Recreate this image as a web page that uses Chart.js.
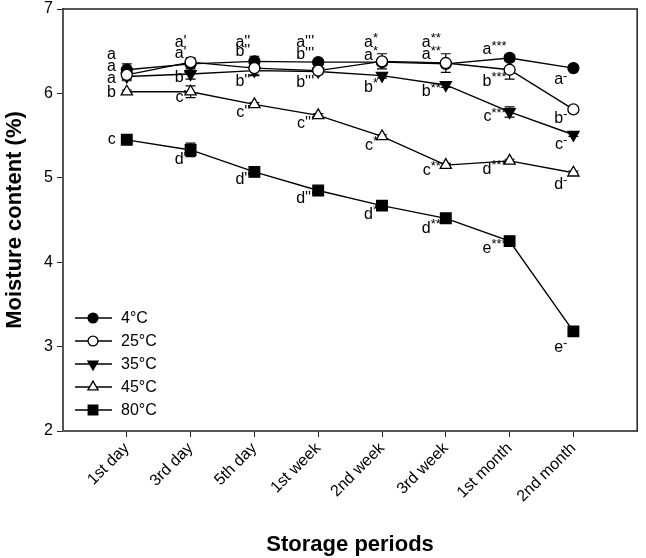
<!DOCTYPE html>
<html><head><meta charset="utf-8">
<script src="https://cdn.jsdelivr.net/npm/chart.js@4.4.1/dist/chart.umd.min.js"></script>
<style>html,body{margin:0;padding:0;background:#fff}#wrap{width:646px;height:558px}</style>
</head><body><div id="wrap"><canvas id="c" width="646" height="558"></canvas></div>
<script>
// ---- data ----
const categories = ['1st day','3rd day','5th day','1st week','2nd week','3rd week','1st month','2nd month'];
const seriesNames = ['4°C','25°C','35°C','45°C','80°C'];
const yTicks = [2,3,4,5,6,7];

const moisture4  = [6.28, 6.35, 6.38, 6.37, 6.37, 6.35, 6.42, 6.30];
const moisture25 = [6.22, 6.37, 6.30, 6.27, 6.38, 6.36, 6.28, 5.81];
const moisture35 = [6.20, 6.23, 6.27, 6.26, 6.21, 6.10, 5.78, 5.51];
const moisture45 = [6.02, 6.02, 5.87, 5.74, 5.49, 5.15, 5.20, 5.06];
const moisture80 = [5.45, 5.33, 5.07, 4.85, 4.67, 4.52, 4.25, 3.18];

const err4  = [0.07, 0.03, 0.06, 0.03, 0.02, 0.03, 0.04, 0.03];
const err25 = [0.07, 0.05, 0.08, 0.03, 0.09, 0.11, 0.11, 0.02];
const err35 = [0.03, 0.06, 0.06, 0.03, 0.03, 0.03, 0.06, 0.02];
const err45 = [0.02, 0.07, 0.02, 0.02, 0.02, 0.02, 0.02, 0.02];
const err80 = [0.04, 0.08, 0.03, 0.04, 0.02, 0.03, 0.03, 0.03];

const letters4  = ['a', "a'", "a''", "a'''", 'a*', 'a**', 'a***', 'a-'];
const letters25 = ['a', "a'", "b''", "b'''", 'a*', 'a**', 'b***', 'b-'];
const letters35 = ['a', "b'", "b''", "b'''", 'b*', 'b**', 'c***', 'c-'];
const letters45 = ['b', "c'", "c''", "c'''", 'c*', 'c**', 'd***', 'd-'];
const letters80 = ['c', "d'", "d''", "d'''", 'd*', 'd**', 'e***', 'e-'];

// ---- label placement (style, pixels relative to the point) ----
const labelDx = [-11, -4, -4, -4, -4, -5, -3, -6];
const labelDy = [
  [-15, -21, -19, -20, -20, -21, -8, 12],
  [-8,  -9,  -16, -16, -6,  -8,  12, 9],
  [2,   4,   11,  11,  12,  7,   5,  10],
  [1,   6,   8,   8,   9,   5,   9,  12],
  [0,   10,  8,   8,   9,   10,  7,  16]
];

const values = [moisture4, moisture25, moisture35, moisture45, moisture80];
const errors = [err4, err25, err35, err45, err80];
const letters = [letters4, letters25, letters35, letters45, letters80];

const styles = [
  {pointStyle:'circle',   radius:5.5, rotation:0,   fill:'#000', order:1},
  {pointStyle:'circle',   radius:5.5, rotation:0,   fill:'#fff', order:0},
  {pointStyle:'triangle', radius:6.5, rotation:180, fill:'#000', order:2},
  {pointStyle:'triangle', radius:6.5, rotation:0,   fill:'#fff', order:3},
  {pointStyle:'rect',     radius:7.5, rotation:0,   fill:'#000', order:4}
];

const datasets = values.map((vals, s) => ({
  label: seriesNames[s],
  data: vals.map((v, i) => ({x: i, y: v})),
  borderColor: '#000',
  borderWidth: 1.4,
  backgroundColor: styles[s].fill,
  pointBackgroundColor: styles[s].fill,
  pointBorderColor: '#000',
  pointBorderWidth: 1.3,
  pointStyle: styles[s].pointStyle,
  pointRadius: styles[s].radius,
  pointRotation: styles[s].rotation,
  order: styles[s].order,
  tension: 0
}));

function markPoint(ctx, st, x, y) {
  ctx.save();
  ctx.fillStyle = st.fill; ctx.strokeStyle = '#000'; ctx.lineWidth = 1.3;
  if (Chart.helpers && Chart.helpers.drawPoint) {
    Chart.helpers.drawPoint(ctx, {pointStyle: st.pointStyle, radius: st.radius, rotation: st.rotation, borderWidth: 1.3}, x, y);
  }
  ctx.restore();
}

const errorBars = {
  id: 'errorBars',
  beforeDatasetsDraw(chart) {
    const ctx = chart.ctx, ys = chart.scales.y;
    ctx.save();
    ctx.strokeStyle = '#000'; ctx.lineWidth = 1.2;
    values.forEach((vals, s) => {
      const meta = chart.getDatasetMeta(s);
      vals.forEach((v, i) => {
        const p = meta.data[i]; const e = errors[s][i];
        const y1 = ys.getPixelForValue(v + e), y2 = ys.getPixelForValue(v - e);
        ctx.beginPath();
        ctx.moveTo(p.x, y1); ctx.lineTo(p.x, y2);
        ctx.moveTo(p.x - 5, y1); ctx.lineTo(p.x + 5, y1);
        ctx.moveTo(p.x - 5, y2); ctx.lineTo(p.x + 5, y2);
        ctx.stroke();
      });
    });
    ctx.restore();
  }
};

const letterLabels = {
  id: 'letterLabels',
  afterDatasetsDraw(chart) {
    const ctx = chart.ctx;
    ctx.save();
    ctx.fillStyle = '#000';
    ctx.textBaseline = 'middle';
    ctx.textAlign = 'left';
    const baseFont = '16px "Liberation Sans", Arial, sans-serif';
    const supFont = '13px "Liberation Sans", Arial, sans-serif';
    letters.forEach((labs, s) => {
      const meta = chart.getDatasetMeta(s);
      labs.forEach((t, i) => {
        const p = meta.data[i];
        const base = t[0], suf = t.slice(1);
        const primes = suf.indexOf("'") >= 0;
        ctx.font = baseFont; const wb = ctx.measureText(base).width;
        ctx.font = primes ? baseFont : supFont; const ws = suf ? ctx.measureText(suf).width : 0;
        const xr = p.x + labelDx[i];
        const y = p.y + labelDy[s][i];
        const x0 = xr - wb - ws;
        ctx.font = baseFont; ctx.fillText(base, x0, y);
        if (suf) {
          ctx.font = primes ? baseFont : supFont;
          ctx.fillText(suf, x0 + wb, primes ? y : y - 4);
        }
      });
    });
    ctx.restore();
  }
};

const frameAndLegend = {
  id: 'frameAndLegend',
  beforeDatasetsDraw(chart) {
    const {ctx, chartArea: a} = chart;
    ctx.save();
    ctx.strokeStyle = '#222'; ctx.lineWidth = 1.5;
    ctx.beginPath();
    ctx.moveTo(a.left, a.top); ctx.lineTo(a.right, a.top); ctx.lineTo(a.right, a.bottom);
    ctx.stroke();
    ctx.restore();
  },
  afterDraw(chart) {
    const {ctx, chartArea: a} = chart;
    ctx.save();
    const x0 = a.left + 12, x1 = a.left + 49, xm = a.left + 30, xt = a.left + 58;
    ctx.font = '16px "Liberation Sans", Arial, sans-serif';
    ctx.textBaseline = 'middle'; ctx.textAlign = 'left';
    seriesNames.forEach((n, s) => {
      const y = a.bottom - 113 + s * 23;
      ctx.strokeStyle = '#000'; ctx.lineWidth = 1.4;
      ctx.beginPath(); ctx.moveTo(x0, y); ctx.lineTo(x1, y); ctx.stroke();
      const st = Object.assign({}, styles[s], {radius: styles[s].radius * 0.9});
      markPoint(ctx, st, xm, y);
      ctx.fillStyle = '#000';
      ctx.fillText(n, xt, y + 1);
    });
    ctx.restore();
  }
};

new Chart(document.getElementById('c'), {
  type: 'line',
  data: {datasets},
  options: {
    responsive: false,
    devicePixelRatio: 1,
    animation: false,
    layout: {padding: {top: 0, right: 2, left: 0, bottom: 0}},
    plugins: {legend: {display: false}, tooltip: {enabled: false}},
    scales: {
      x: {
        type: 'linear', min: -1, max: 8,
        afterBuildTicks: (s) => { s.ticks = categories.map((_, i) => ({value: i})); },
        afterFit: (s) => { s.height = 127; },
        ticks: {
          callback: (v) => categories[v] !== undefined ? categories[v] : '',
          maxRotation: 45, minRotation: 45, autoSkip: false,
          font: {size: 16, family: '"Liberation Sans", Arial, sans-serif'}, color: '#000', padding: 2
        },
        grid: {drawOnChartArea: false, drawTicks: true, tickLength: 6, color: '#222', lineWidth: 1},
        border: {display: true, color: '#555', width: 2},
        title: {display: true, text: 'Storage periods', color: '#000',
          font: {size: 22, weight: 'bold', family: '"Liberation Sans", Arial, sans-serif'}, padding: {top: 0, bottom: 0}}
      },
      y: {
        min: 2, max: 7,
        afterBuildTicks: (s) => { s.ticks = yTicks.map(v => ({value: v})); },
        afterFit: (s) => { s.width = 63; s.paddingTop = 9; },
        ticks: {font: {size: 16, family: '"Liberation Sans", Arial, sans-serif'}, color: '#000', padding: 4},
        grid: {drawOnChartArea: false, drawTicks: true, tickLength: 6, color: '#222', lineWidth: 1},
        border: {display: true, color: '#555', width: 2},
        title: {display: true, text: 'Moisture content (%)', color: '#000',
          font: {size: 22, weight: 'bold', family: '"Liberation Sans", Arial, sans-serif'}, padding: {top: 2, bottom: 0}}
      }
    }
  },
  plugins: [frameAndLegend, errorBars, letterLabels]
});
</script>
</body></html>
